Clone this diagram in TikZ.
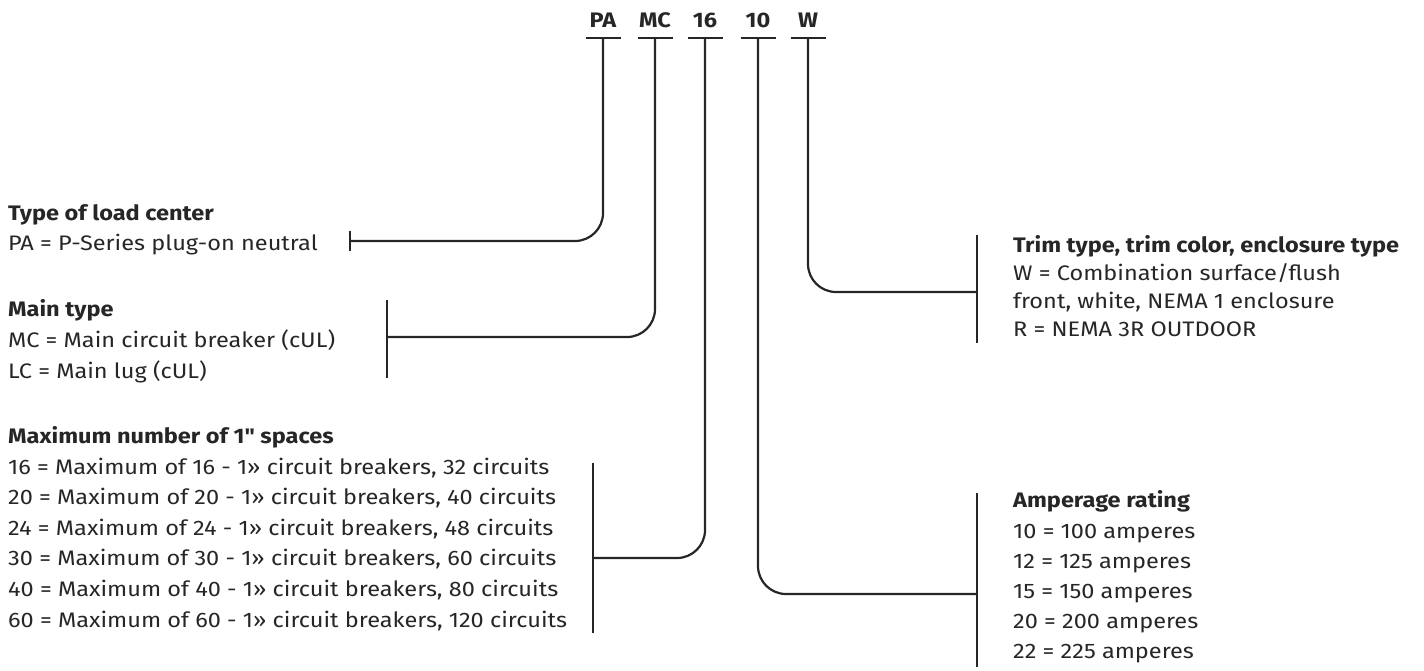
\documentclass[tikz,border=0pt]{standalone}
\usepackage{fontspec}
\newfontfamily\abb{Fira Sans}[FakeStretch=1.12]
\definecolor{ink}{HTML}{262626}
\begin{document}
\begin{tikzpicture}[x=1pt,y=-1pt,
  ln/.style={line width=2.2pt, draw=ink},
  rc/.style={ln, rounded corners=28pt},
  txt/.style={anchor=base west, inner sep=0pt, text=ink, font=\abb\fontsize{21}{25}\selectfont},
  hd/.style={txt, font=\abb\fontsize{21}{25}\selectfont\bfseries},
  code/.style={anchor=base, inner sep=0pt, text=ink, font=\abb\fontsize{21}{25}\selectfont\bfseries}]
\useasboundingbox (0,0) rectangle (1424,670);

% code letters
\node[code] (pa)  at (603,27) {PA};
\node[code] (mc)  at (655,27) {MC};
\node[code] (n16) at (705,27) {16};
\node[code] (n10) at (758,27) {10};
\node[code] (w)   at (808,27) {W};
\foreach \n/\x in {pa/603,mc/655,n16/705,n10/758,w/808}{
  \coordinate (\n b) at (\x,38);
  \draw[ln] ([xshift=-17.5pt]\n b) -- ([xshift=17.5pt]\n b);
}

% Type of load center
\node[hd]  (lc0) at (8,220) {Type of load center};
\node[txt] (lc1) at (8,250) {PA = P-Series plug-on neutral};
\coordinate (lcj) at (350,241);
\draw[ln] ([yshift=10pt]lcj) -- ([yshift=-10pt]lcj);
\draw[rc] (pab) |- (lcj);

% Main type
\node[hd]  (mt0) at (8,316) {Main type};
\node[txt] (mt1) at (8,347) {MC = Main circuit breaker (cUL)};
\node[txt] (mt2) at (8,378) {LC = Main lug (cUL)};
\coordinate (mtt) at (387,300);
\coordinate (mtb) at (387,378);
\coordinate (mtj) at (387,337);
\draw[ln] (mtt) -- (mtb);
\draw[rc] (mcb) |- (mtj);

% Maximum number of spaces
\node[hd]  (ms0) at (8,443) {Maximum number of 1" spaces};
\node[txt] (ms1) at (8,474) {16 = Maximum of 16 - 1» circuit breakers, 32 circuits};
\node[txt] (ms2) at (8,504.6) {20 = Maximum of 20 - 1» circuit breakers, 40 circuits};
\node[txt] (ms3) at (8,535.2) {24 = Maximum of 24 - 1» circuit breakers, 48 circuits};
\node[txt] (ms4) at (8,565.8) {30 = Maximum of 30 - 1» circuit breakers, 60 circuits};
\node[txt] (ms5) at (8,596.4) {40 = Maximum of 40 - 1» circuit breakers, 80 circuits};
\node[txt] (ms6) at (8,627) {60 = Maximum of 60 - 1» circuit breakers, 120 circuits};
\coordinate (mst) at (593,463);
\coordinate (msb) at (593,633);
\coordinate (msj) at (593,558);
\draw[ln] (mst) -- (msb);
\draw[rc] (n16b) |- (msj);

% Trim type
\node[hd]  (tt0) at (1013,252) {Trim type, trim color, enclosure type};
\node[txt] (tt1) at (1013,280) {W = Combination surface/flush};
\node[txt] (tt2) at (1013,308) {front, white, NEMA 1 enclosure};
\node[txt] (tt3) at (1013,336) {R = NEMA 3R OUTDOOR};
\coordinate (ttt) at (977,235);
\coordinate (ttb) at (977,343);
\coordinate (ttj) at (977,292);
\draw[ln] (ttt) -- (ttb);
\draw[rc] (wb) |- (ttj);

% Amperage rating
\node[hd]  (ar0) at (1013,507) {Amperage rating};
\node[txt] (ar1) at (1013,538) {10 = 100 amperes};
\node[txt] (ar2) at (1013,568) {12 = 125 amperes};
\node[txt] (ar3) at (1013,598) {15 = 150 amperes};
\node[txt] (ar4) at (1013,628) {20 = 200 amperes};
\node[txt] (ar5) at (1013,658) {22 = 225 amperes};
\coordinate (art) at (977,493);
\coordinate (arb) at (977,667);
\coordinate (arj) at (977,594);
\draw[ln] (art) -- (arb);
\draw[rc] (n10b) |- (arj);
\end{tikzpicture}
\end{document}
